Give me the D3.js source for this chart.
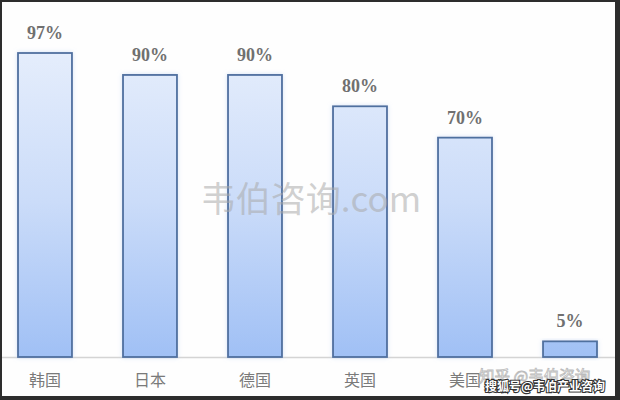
<!DOCTYPE html>
<html><head><meta charset="utf-8">
<script src="https://cdn.jsdelivr.net/npm/d3@7/dist/d3.min.js"></script>
<style>html,body{margin:0;padding:0;background:#fff;}svg{display:block;}</style>
</head><body>
<script>
const categories = ["韩国", "日本", "德国", "英国", "美国", ""];
const values = [97, 90, 90, 80, 70, 5];
const valueLabels = ["97%", "90%", "90%", "80%", "70%", "5%"];

const W = 620, H = 400;
const svg = d3.select("body").append("svg").attr("width", W).attr("height", H);

const defs = svg.append("defs");
const grad = defs.append("linearGradient").attr("id", "barGrad")
  .attr("x1", 0).attr("x2", 0)
  .attr("gradientUnits", "userSpaceOnUse")
  .attr("y1", 45).attr("y2", 357);
grad.append("stop").attr("offset", "0%").attr("stop-color", "#e6eefc");
grad.append("stop").attr("offset", "50%").attr("stop-color", "#cbdcf9");
grad.append("stop").attr("offset", "100%").attr("stop-color", "#a0c0f5");
const glow = defs.append("filter").attr("id", "glow").attr("x", "-20%").attr("y", "-20%").attr("width", "140%").attr("height", "140%");
glow.append("feGaussianBlur").attr("in", "SourceAlpha").attr("stdDeviation", 2).attr("result", "b");
glow.append("feFlood").attr("flood-color", "#b8cdf2").attr("flood-opacity", 0.6);
glow.append("feComposite").attr("in2", "b").attr("operator", "in").attr("result", "s");
const m = glow.append("feMerge");
m.append("feMergeNode").attr("in", "s");
m.append("feMergeNode").attr("in", "SourceGraphic");

svg.append("rect").attr("width", W).attr("height", H).attr("fill", "#fefefe");

const x = d3.scaleBand().domain(categories.map((c, i) => i)).range([18, 597]).paddingInner(0.486).paddingOuter(0);
const y = d3.scaleLinear().domain([0, 100]).range([357, 43.6]);

// baseline
svg.append("line").attr("x1", 2).attr("x2", 615).attr("y1", y(0) + 0.5).attr("y2", y(0) + 0.5)
  .attr("stroke", "#d4d4d4").attr("stroke-width", 1.5);

svg.append("g").selectAll("rect").data(values).join("rect")
  .attr("x", (d, i) => x(i))
  .attr("y", d => y(d))
  .attr("width", x.bandwidth())
  .attr("height", d => y(0) - y(d))
  .attr("fill", "url(#barGrad)")
  .attr("stroke", "#4f6f9f")
  .attr("stroke-width", 1.8)
  .attr("filter", "url(#glow)");

svg.append("g").selectAll("text").data(values).join("text")
  .attr("x", (d, i) => x(i) + x.bandwidth() / 2)
  .attr("y", d => y(d) - 14)
  .attr("text-anchor", "middle")
  .attr("font-family", "'Liberation Serif', 'DejaVu Serif', serif")
  .attr("font-weight", "bold")
  .attr("font-size", 18)
  .attr("fill", "#707070")
  .text((d, i) => valueLabels[i]);

svg.append("g").selectAll("text").data(categories).join("text")
  .attr("x", (d, i) => x(i) + x.bandwidth() / 2)
  .attr("y", 386)
  .attr("text-anchor", "middle")
  .attr("font-family", "'Noto Sans CJK SC', sans-serif")
  .attr("font-size", 16)
  .attr("fill", "#7a7a7a")
  .text(d => d);

// watermarks
svg.append("text").attr("x", 311).attr("y", 212).attr("text-anchor", "middle")
  .attr("font-family", "'Noto Sans CJK SC', sans-serif").attr("font-size", 35)
  .attr("fill", "#a8a8a8").attr("fill-opacity", 0.55).text("韦伯咨询.com");
svg.append("text").attr("x", 479).attr("y", 382)
  .attr("font-family", "'Noto Sans CJK SC', sans-serif").attr("font-size", 15.5)
  .attr("fill", "#ffffff").attr("fill-opacity", 0.6).attr("stroke", "#bbbbbb").attr("stroke-width", 0.8)
  .text("知乎 @韦伯咨询");
svg.append("text").attr("x", 485).attr("y", 391)
  .attr("font-family", "'Noto Sans CJK SC', sans-serif").attr("font-size", 12).attr("font-weight", "bold")
  .attr("fill", "#ffffff").attr("stroke", "#333").attr("stroke-width", 2.2).attr("paint-order", "stroke")
  .text("搜狐号@韦伯产业咨询");

// frame
svg.append("rect").attr("x", 0).attr("y", 0).attr("width", W).attr("height", 2).attr("fill", "#2d2d2d");
svg.append("rect").attr("x", 0).attr("y", 0).attr("width", 2).attr("height", H).attr("fill", "#2d2d2d");
svg.append("rect").attr("x", 615).attr("y", 0).attr("width", 5).attr("height", H).attr("fill", "#2d2d2d");
svg.append("rect").attr("x", 0).attr("y", 396).attr("width", W).attr("height", 4).attr("fill", "#2d2d2d");
</script>
</body></html>
